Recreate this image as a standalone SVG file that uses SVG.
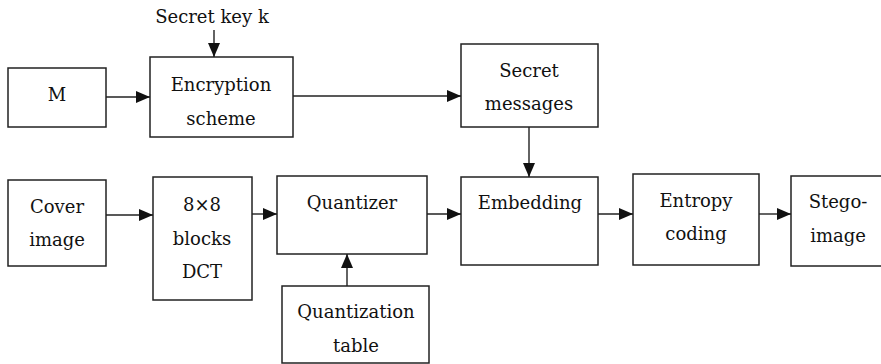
<svg xmlns="http://www.w3.org/2000/svg" width="881" height="364" viewBox="0 0 881 364">
<style>
rect{fill:#fff;stroke:#222;stroke-width:1.5}
text{font-family:'DejaVu Serif','Liberation Serif','Times New Roman',serif;font-size:18px;fill:#111;text-anchor:middle}
.c line{stroke:#222;stroke-width:1.4;marker-end:url(#ah)}
</style>
<defs>
<marker id="ah" viewBox="0 0 14 12" refX="14" refY="6" markerWidth="14" markerHeight="12" markerUnits="userSpaceOnUse" orient="auto">
<path d="M0,0L14,6L0,12z" fill="#111"/>
</marker>
</defs>
<text x="212" y="23">Secret key k</text>
<g id="M"><rect x="8" y="68" width="98" height="59"/><text x="57" y="101">M</text></g>
<g id="enc"><rect x="150" y="57" width="143" height="80"/><text x="221" y="91">Encryption</text><text x="221" y="125">scheme</text></g>
<g id="secret"><rect x="461" y="44" width="137" height="83"/><text x="529" y="77">Secret</text><text x="529" y="110">messages</text></g>
<g id="cover"><rect x="8" y="180" width="98" height="86"/><text x="57" y="213">Cover</text><text x="57" y="246">image</text></g>
<g id="dct"><rect x="153" y="177" width="99" height="123"/><text x="202" y="211">8×8</text><text x="202" y="245">blocks</text><text x="202" y="278">DCT</text></g>
<g id="quant"><rect x="277" y="176" width="150" height="78"/><text x="352" y="209">Quantizer</text></g>
<g id="qtable"><rect x="282" y="286" width="147" height="77"/><text x="356" y="318">Quantization</text><text x="356" y="352">table</text></g>
<g id="embed"><rect x="461" y="177" width="137" height="88"/><text x="530" y="209">Embedding</text></g>
<g id="entropy"><rect x="633" y="174" width="126" height="91"/><text x="696" y="207">Entropy</text><text x="696" y="240">coding</text></g>
<g id="stego"><rect x="791" y="176" width="94" height="90"/><text x="838" y="208">Stego-</text><text x="838" y="242">image</text></g>
<g class="c">
<line x1="214" y1="30" x2="214" y2="57"/>
<line x1="106" y1="97" x2="150" y2="97"/>
<line x1="293" y1="96" x2="461" y2="96"/>
<line x1="529" y1="127" x2="529" y2="177"/>
<line x1="106" y1="215" x2="153" y2="215"/>
<line x1="252" y1="214" x2="277" y2="214"/>
<line x1="347" y1="286" x2="347" y2="254"/>
<line x1="427" y1="214" x2="461" y2="214"/>
<line x1="598" y1="214" x2="633" y2="214"/>
<line x1="759" y1="214" x2="791" y2="214"/>
</g>
</svg>
